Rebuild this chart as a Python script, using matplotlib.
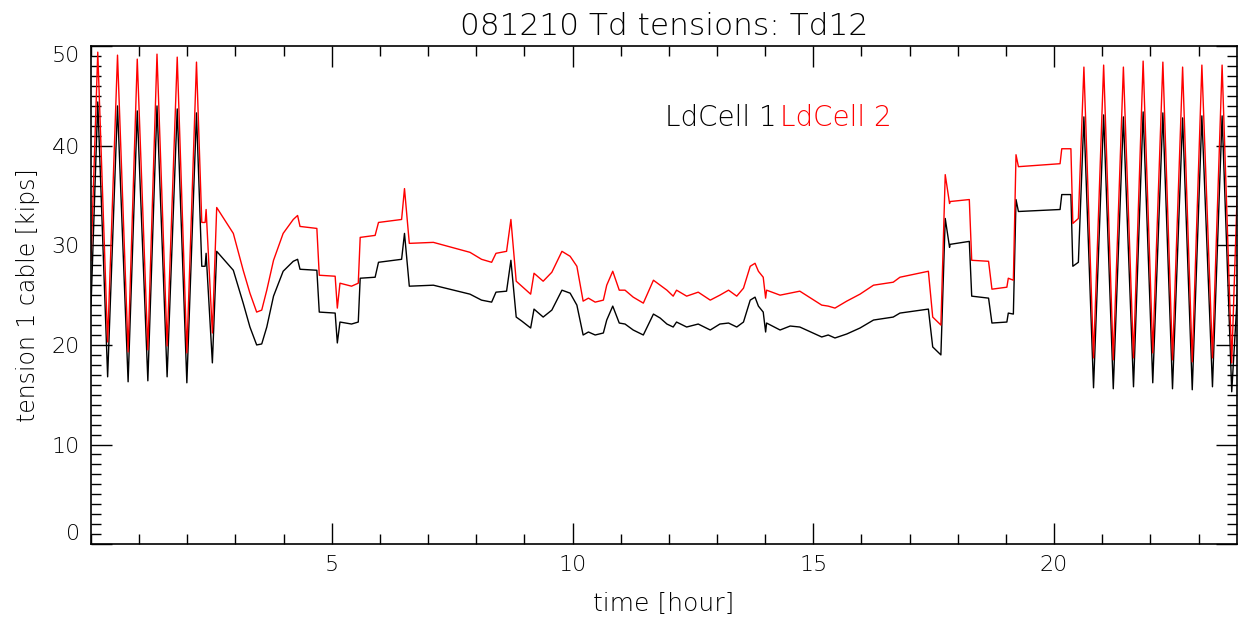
import numpy as np
import matplotlib.pyplot as plt
from matplotlib.ticker import MultipleLocator

# time [hour] of the read-off points, shared by both load cells
t = [0.0, 0.14, 0.345, 0.55, 0.77, 0.96, 1.18, 1.37, 1.58, 1.79, 1.99, 2.19,
     2.30, 2.37, 2.39, 2.52, 2.61, 2.955, 3.16, 3.30, 3.44, 3.545, 3.65, 3.79,
     3.99, 4.20, 4.29, 4.34, 4.69, 4.74, 5.07, 5.115, 5.17, 5.41, 5.55, 5.59,
     5.90, 5.97, 6.45, 6.51, 6.61, 7.11, 7.87, 8.11, 8.32, 8.41, 8.63, 8.72,
     8.83, 8.945, 9.13, 9.20, 9.39, 9.57, 9.78, 9.95, 10.09, 10.22, 10.33,
     10.47, 10.64, 10.71, 10.835, 10.97, 11.09, 11.26, 11.47, 11.68, 11.82,
     11.96, 12.09, 12.16, 12.37, 12.61, 12.86, 13.06, 13.24, 13.41, 13.55,
     13.69, 13.79, 13.86, 13.96, 14.01, 14.03, 14.31, 14.52, 14.72, 15.175,
     15.31, 15.45, 15.695, 15.97, 16.25, 16.66, 16.80, 17.39, 17.48, 17.65,
     17.74, 17.83, 17.84, 18.24, 18.29, 18.64, 18.71, 19.02, 19.05, 19.155,
     19.21, 19.26, 20.125, 20.16, 20.35, 20.39, 20.505, 20.62, 20.82, 21.03,
     21.23, 21.44, 21.65, 21.85, 22.05, 22.26, 22.46, 22.67, 22.87, 23.07,
     23.29, 23.49, 23.69, 23.83]

ldcell1 = [23.9, 44.4, 16.8, 44.0, 16.3, 43.5, 16.4, 44.0, 16.8, 43.7, 16.2, 43.3,
           27.9, 27.9, 29.2, 18.2, 29.4, 27.5, 24.2, 21.8, 20.0, 20.1, 21.8, 24.9,
           27.4, 28.4, 28.6, 27.6, 27.5, 23.3, 23.2, 20.2, 22.3, 22.1, 22.3, 26.7,
           26.8, 28.3, 28.6, 31.2, 25.9, 26.0, 25.1, 24.5, 24.3, 25.3, 25.4, 28.5,
           22.8, 22.4, 21.7, 23.6, 22.8, 23.5, 25.5, 25.2, 24.0, 21.0, 21.3,
           21.0, 21.2, 22.5, 23.9, 22.2, 22.1, 21.5, 21.0, 23.1, 22.7,
           22.1, 21.8, 22.3, 21.8, 22.1, 21.5, 22.1, 22.2, 21.8, 22.3,
           24.5, 24.8, 23.9, 23.3, 21.3, 22.2, 21.5, 21.9, 21.8, 20.8,
           21.0, 20.7, 21.1, 21.7, 22.5, 22.8, 23.2, 23.6, 19.8, 19.0,
           32.7, 29.8, 30.1, 30.4, 24.9, 24.7, 22.2, 22.3, 23.2, 23.1,
           34.6, 33.4, 33.6, 35.1, 35.1, 27.9, 28.3, 42.9, 15.7, 43.1,
           15.6, 42.9, 15.8, 43.4, 16.2, 43.3, 15.6, 42.8, 15.5, 43.0,
           15.8, 43.0, 15.3, 27.0]

ldcell2 = [28.5, 49.4, 20.3, 49.1, 19.3, 48.7, 19.5, 49.2, 19.9, 48.9, 19.2, 48.4,
           32.3, 32.3, 33.6, 21.2, 33.8, 31.2, 27.5, 25.2, 23.3, 23.5, 25.5, 28.5,
           31.2, 32.6, 33.0, 31.9, 31.7, 27.0, 26.9, 23.7, 26.2, 25.9, 26.2, 30.8,
           31.0, 32.3, 32.6, 35.7, 30.2, 30.3, 29.3, 28.6, 28.3, 29.2, 29.4, 32.6,
           26.4, 25.9, 25.1, 27.2, 26.4, 27.3, 29.4, 28.9, 27.9, 24.4, 24.7,
           24.3, 24.5, 26.0, 27.4, 25.5, 25.5, 24.8, 24.2, 26.5, 26.0,
           25.5, 24.9, 25.5, 24.9, 25.3, 24.5, 25.0, 25.5, 24.9, 25.7,
           27.9, 28.2, 27.4, 26.8, 24.7, 25.5, 25.0, 25.2, 25.4, 24.0,
           23.9, 23.7, 24.4, 25.1, 26.0, 26.3, 26.8, 27.4, 22.8, 22.0,
           37.1, 34.2, 34.4, 34.6, 28.5, 28.4, 25.6, 25.8, 26.7, 26.5,
           39.1, 37.9, 38.2, 39.7, 39.7, 32.2, 32.7, 47.9, 18.7, 48.1,
           18.5, 47.9, 18.7, 48.5, 19.2, 48.4, 18.5, 47.9, 18.3, 48.1,
           18.7, 48.1, 18.2, 39.3]

plt.rcParams['font.family'] = ['DejaVu Sans']
plt.rcParams['font.weight'] = 'light'
plt.rcParams['axes.titleweight'] = 'light'
plt.rcParams['axes.labelweight'] = 'light'

fig = plt.figure(figsize=(12.47, 6.24), dpi=100)
ax = fig.add_axes([0.073, 0.128, 0.919, 0.798])

ax.plot(t, ldcell1, color='black', lw=1.0)
ax.plot(t, ldcell2, color='red', lw=1.0)

ax.set_xlim(0, 23.8)
ax.set_ylim(0, 50)
ax.xaxis.set_major_locator(MultipleLocator(5))
ax.xaxis.set_minor_locator(MultipleLocator(1))
ax.yaxis.set_major_locator(MultipleLocator(10))
ax.yaxis.set_minor_locator(MultipleLocator(1))
ax.tick_params(which='both', direction='in', top=True, right=True, width=1.0)
ax.tick_params(which='major', length=15, labelsize=16, pad=8)
ax.tick_params(which='minor', length=7.5)
for s in ax.spines.values():
    s.set_linewidth(1.2)

ax.set_xticks([5, 10, 15, 20])
ax.set_xticklabels(['5', '10', '15', '20'])
ax.set_yticks([0, 10, 20, 30, 40, 50])
labs = ax.get_yticklabels()
labs[0].set_verticalalignment('bottom')
labs[-1].set_verticalalignment('top')

ax.set_title('081210 Td tensions: Td12', fontsize=22.5, pad=8)
ax.set_xlabel('time [hour]', fontsize=18, labelpad=12)
ax.set_ylabel('tension 1 cable [kips]', fontsize=17, labelpad=8)

ax.text(0.501, 0.855, 'LdCell 1', transform=ax.transAxes, fontsize=20,
        color='black', va='center', ha='left')
ax.text(0.601, 0.855, 'LdCell 2', transform=ax.transAxes, fontsize=20,
        color='red', va='center', ha='left')

plt.savefig('out.png', dpi=100)
